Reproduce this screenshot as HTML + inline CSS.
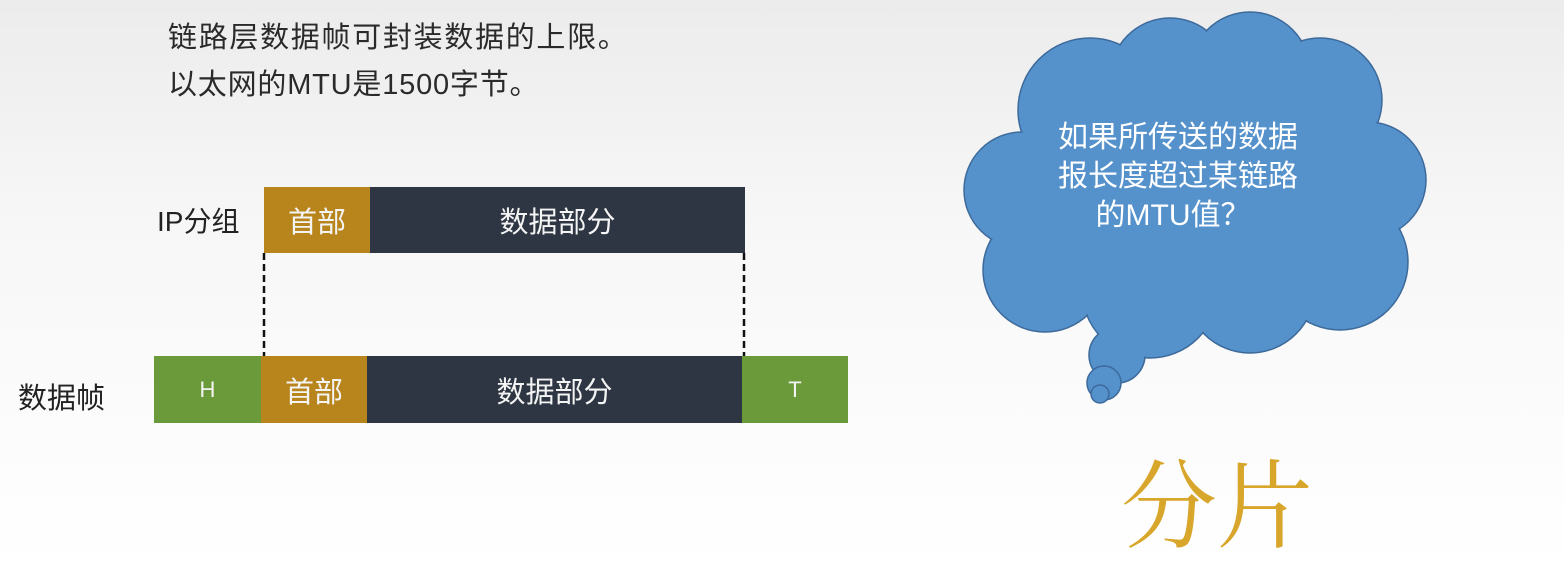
<!DOCTYPE html>
<html><head><meta charset="utf-8"><style>
body{margin:0;width:1564px;height:566px;overflow:hidden;background:linear-gradient(#ececec,#f7f7f7 40%,#fff);font-family:"Liberation Sans","Noto Sans CJK SC",sans-serif;position:relative}
.t{position:absolute;white-space:nowrap}
.b{position:absolute;color:#f4f4f4;display:flex;align-items:center;justify-content:center;font-size:29px;box-sizing:border-box}
</style></head><body>
<div class="t" style="left:168px;top:14px;font-size:29px;color:#2a2a2a;letter-spacing:1.7px">链路层数据帧可封装数据的上限。</div>
<div class="t" style="left:168px;top:61px;font-size:29px;color:#2a2a2a;letter-spacing:0.8px">以太网的MTU是1500字节。</div>
<div class="t" style="left:157px;top:200px;font-size:28px;color:#222">IP分组</div>
<div class="t" style="left:18px;top:375px;font-size:29px;color:#222">数据帧</div>
<div class="b" style="left:264px;top:187px;width:106px;height:66px;background:#b8841c">首部</div>
<div class="b" style="left:370px;top:187px;width:375px;height:66px;background:#2d3642">数据部分</div>
<div class="b" style="left:154px;top:356px;width:107px;height:67px;background:#6b9a3a;font-size:22px">H</div>
<div class="b" style="left:261px;top:356px;width:106px;height:67px;background:#b8841c">首部</div>
<div class="b" style="left:367px;top:356px;width:375px;height:67px;background:#2d3642">数据部分</div>
<div class="b" style="left:742px;top:356px;width:106px;height:67px;background:#6b9a3a;font-size:22px">T</div>
<svg width="1564" height="566" style="position:absolute;left:0;top:0">
<line x1="264" y1="253" x2="264" y2="356" stroke="#111" stroke-width="2.5" stroke-dasharray="7,4"/>
<line x1="744" y1="253" x2="744" y2="356" stroke="#111" stroke-width="2.5" stroke-dasharray="7,4"/>
<g id="cloud"></g>
<text x="1178" y="147" font-size="30" fill="#fff" text-anchor="middle" font-family="Liberation Sans,Noto Sans CJK SC,sans-serif">如果所传送的数据</text>
<text x="1178" y="186" font-size="30" fill="#fff" text-anchor="middle" font-family="Liberation Sans,Noto Sans CJK SC,sans-serif">报长度超过某链路</text>
<text x="1173" y="225" font-size="30" fill="#fff" text-anchor="middle" font-family="Liberation Sans,Noto Sans CJK SC,sans-serif">的MTU值？</text>
<text x="1217" y="540" font-size="96" fill="#d8a62a" text-anchor="middle" font-family="Noto Serif CJK SC,serif">分片</text>
</svg>
<script>
const circles=[[1090,110,72],[1170,78,60],[1250,72,60],[1320,100,62],[1368,180,58],[1340,262,68],[1250,288,65],[1150,290,68],[1045,270,62],[1022,190,58],[1200,190,130],[1110,190,90],[1290,190,90],[1117,355,28],[1104,383,17],[1100,394,9]];
const g=document.getElementById('cloud');
const ns='http://www.w3.org/2000/svg';
[[1.5,'#3d6a9a',0],[0,'none',1.2]].forEach(([sw,st,dr])=>{
circles.forEach((c,i)=>{
 if(dr&&i>=13)return;
 const e=document.createElementNS(ns,'circle');
 e.setAttribute('cx',c[0]);e.setAttribute('cy',c[1]);e.setAttribute('r',c[2]-dr);
 e.setAttribute('fill','#5592cc');e.setAttribute('stroke',st);e.setAttribute('stroke-width',sw);
 
 
 g.appendChild(e);
});});
</script>
</body></html>
